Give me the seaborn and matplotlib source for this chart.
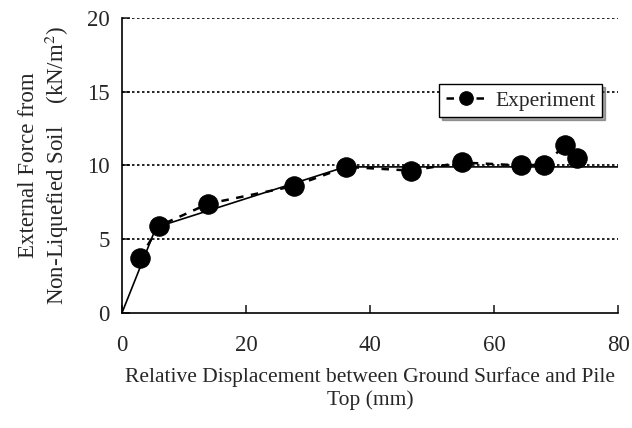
import matplotlib
matplotlib.use('Agg')
import matplotlib.pyplot as plt
import seaborn as sns
import pandas as pd

# experiment points
exp_disp = [2.9, 6.0, 13.9, 27.7, 36.2, 46.6, 54.8, 64.3, 68.1, 71.5, 73.3]
exp_force = [3.7, 5.9, 7.4, 8.6, 9.9, 9.65, 10.2, 10.0, 10.05, 11.4, 10.5]

# model line (solid)
model_disp = [0, 5.5, 36.0, 81.5]
model_force = [0, 5.8, 9.9, 9.9]

x_ticks = [0, 20, 40, 60, 80]
y_ticks = [0, 5, 10, 15, 20]

sns.set_style("ticks")
plt.rcParams['font.family'] = ['Liberation Serif', 'DejaVu Serif']
plt.rcParams['mathtext.fontset'] = 'stix'

fig = plt.figure(figsize=(6.32, 4.28), dpi=100)
ax = fig.add_axes([0.193, 0.269, 0.785, 0.689])

for yv in y_ticks[1:]:
    ax.axhline(yv, color='black', lw=1.2, ls=(0, (1.5, 1.5)), zorder=1)

df_model = pd.DataFrame({'disp': model_disp, 'force': model_force})
sns.lineplot(data=df_model, x='disp', y='force', ax=ax, color='black',
             lw=1.2, sort=False, zorder=2, label='_model')

df_exp = pd.DataFrame({'disp': exp_disp, 'force': exp_force})
sns.lineplot(data=df_exp, x='disp', y='force', ax=ax, color='black',
             lw=1.8, ls=(0, (3, 3)), marker='o', markersize=14,
             markeredgecolor='black', sort=False, zorder=3, label='Experiment')

ax.set_xlim(0, 80)
ax.set_ylim(0, 20)
ax.set_xticks(x_ticks)
ax.set_yticks(y_ticks)
ax.tick_params(direction='in', length=6, width=1.2, labelsize=16.5, pad=9)
ax.tick_params(axis='x', pad=16)
for s in ['top', 'right']:
    ax.spines[s].set_visible(False)
for s in ['left', 'bottom']:
    ax.spines[s].set_linewidth(1.2)
    ax.spines[s].set_color('black')

ax.set_xlabel('Relative Displacement between Ground Surface and Pile\nTop (mm)',
              fontsize=15.5, labelpad=8, linespacing=1.2)
ax.set_ylabel('External Force from\nNon-Liquefied Soil    (kN/m$^2$)',
              fontsize=16.5, labelpad=11, linespacing=1.2)

leg = ax.legend(handles=ax.get_lines()[-1:], labels=['Experiment'],
                loc='upper left', bbox_to_anchor=(0.64, 0.776), borderaxespad=0,
                fontsize=15.5, frameon=True, fancybox=False, shadow=True,
                edgecolor='black', handlelength=1.9, handletextpad=0.4,
                borderpad=0.3, markerscale=0.7)
leg.get_frame().set_linewidth(1.0)

fig.savefig('out.png', dpi=100)
